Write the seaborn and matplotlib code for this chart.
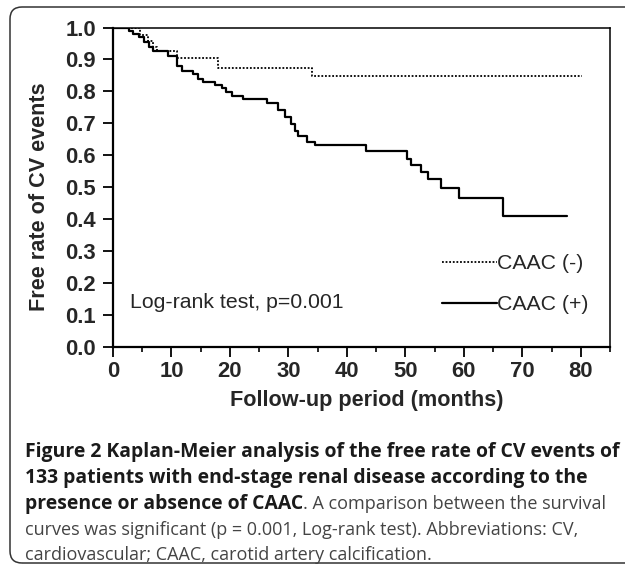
import matplotlib
matplotlib.use("Agg")
import numpy as np
import pandas as pd
import seaborn as sns
import matplotlib.pyplot as plt
from matplotlib.patches import FancyBboxPatch
from matplotlib.transforms import IdentityTransform
from matplotlib.ticker import MultipleLocator

# ---------------- data ----------------
times_neg = [0, 4.6, 6.0, 6.8, 7.5, 10.9, 17.9, 34.0, 80.2]
surv_neg = [1.0, 0.978, 0.957, 0.94, 0.925, 0.906, 0.874, 0.847, 0.847]

times_pos = [0, 2.7, 3.5, 4.5, 5.3, 6.2, 6.9, 9.4, 11.0, 11.8, 13.7, 14.5, 15.4,
             17.4, 18.6, 19.4, 20.3, 22.2, 26.3, 28.2, 29.4, 30.5, 31.1, 31.6,
             33.1, 34.6, 43.3, 50.3, 51.0, 52.6, 53.8, 56.1, 59.2, 66.7, 77.7]
surv_pos = [1.0, 0.99, 0.98, 0.97, 0.955, 0.94, 0.925, 0.91, 0.88, 0.865, 0.853,
            0.838, 0.828, 0.82, 0.81, 0.797, 0.785, 0.777, 0.765, 0.742, 0.72,
            0.698, 0.676, 0.659, 0.643, 0.631, 0.612, 0.587, 0.569, 0.549, 0.525,
            0.498, 0.466, 0.41, 0.41]

label_neg = "CAAC (-)"
label_pos = "CAAC (+)"
x_ticks = [0, 10, 20, 30, 40, 50, 60, 70, 80]
x_tick_labels = ["0", "10", "20", "30", "40", "50", "60", "70", "80"]
y_ticks = [0.0, 0.1, 0.2, 0.3, 0.4, 0.5, 0.6, 0.7, 0.8, 0.9, 1.0]
y_tick_labels = ["0.0", "0.1", "0.2", "0.3", "0.4", "0.5", "0.6", "0.7", "0.8", "0.9", "1.0"]
x_label = "Follow-up period (months)"
y_label = "Free rate of CV events"
annot_text = "Log-rank test, p=0.001"

caption_lines = [
    [("Figure 2 Kaplan-Meier analysis of the free rate of CV events of", True)],
    [("133 patients with end-stage renal disease according to the", True)],
    [("presence or absence of CAAC", True), (". A comparison between the survival", False)],
    [("curves was significant (p = 0.001, Log-rank test). Abbreviations: CV,", False)],
    [("cardiovascular; CAAC, carotid artery calcification.", False)],
]

# ---------------- style ----------------
sns.set_style("ticks")
plt.rcParams["font.family"] = ["Liberation Sans", "DejaVu Sans"]
FS = 15.3

W, H = 625, 568
fig = plt.figure(figsize=(W / 100, H / 100), dpi=100)
ax = fig.add_axes([113 / W, 1 - 347 / H, 497 / W, (347 - 27.5) / H])

df_neg = pd.DataFrame({"t": times_neg, "s": surv_neg})
df_pos = pd.DataFrame({"t": times_pos, "s": surv_pos})

sns.lineplot(data=df_neg, x="t", y="s", drawstyle="steps-post", color="black",
             linewidth=1.3, linestyle=(0, (1, 1.0)), estimator=None,
             label=label_neg, ax=ax)
sns.lineplot(data=df_pos, x="t", y="s", drawstyle="steps-post", color="black",
             linewidth=1.6, estimator=None, label=label_pos, ax=ax)

ax.set_xlim(0, 85)
ax.set_ylim(0, 1.0)
ax.set_xticks(x_ticks)
ax.set_xticklabels(x_tick_labels)
ax.set_yticks(y_ticks)
ax.set_yticklabels(y_tick_labels)
ax.xaxis.set_minor_locator(MultipleLocator(5))
for lab in ax.get_xticklabels() + ax.get_yticklabels():
    lab.set_fontweight("bold")
    lab.set_fontsize(FS + 0.5)
ax.tick_params(axis="y", which="major", length=7.2, width=1.3, pad=5.0, color="black")
ax.tick_params(axis="x", which="major", length=7.0, width=1.3, pad=3.0, color="black")
ax.tick_params(axis="x", which="minor", length=3.5, width=1.2, color="black")

for side in ["left", "bottom"]:
    ax.spines[side].set_linewidth(1.6)
    ax.spines[side].set_color("black")
for side in ["top", "right"]:
    ax.spines[side].set_visible(True)
    ax.spines[side].set_linewidth(1.1)
    ax.spines[side].set_color("black")

ax.set_xlabel(x_label, fontsize=FS + 0.3, fontweight="bold")
ax.set_ylabel(y_label, fontsize=FS + 0.3, fontweight="bold")
ax.xaxis.set_label_coords(0.511, -0.136)
ax.yaxis.set_label_coords(-0.127, 0.47)

ax.text(2.9, 0.122, annot_text, fontsize=FS, va="baseline", ha="left")

ax.legend(loc="lower right", bbox_to_anchor=(81.4, 0.103), bbox_transform=ax.transData,
          frameon=False, handlelength=2.6, handletextpad=0.0, labelspacing=1.03,
          borderpad=0, borderaxespad=0, fontsize=FS)

# ---------------- outer rounded box ----------------
box = FancyBboxPatch((10, 5), 700, 556, boxstyle="round,pad=0,rounding_size=12",
                     transform=IdentityTransform(), fill=False, edgecolor="#333333",
                     linewidth=1.1)
fig.patches.append(box)

# ---------------- caption ----------------
renderer = fig.canvas.get_renderer()
cap_family = ["Open Sans", "DejaVu Sans"]
probe = fig.text(0, 0, caption_lines[0][0][0], fontsize=12, fontweight="bold", family=cap_family)
w12 = probe.get_window_extent(renderer).width
probe.remove()
cap_fs = 12 * 592.0 / w12
reg_fs = cap_fs * 0.93

baselines = [457, 483, 509, 535, 560]
x_start = 25
for line, by in zip(caption_lines, baselines):
    x = x_start
    for txt, bold in line:
        t = fig.text(x / W, 1 - by / H, txt, fontsize=cap_fs if bold else reg_fs,
                     fontweight="bold" if bold else "normal", family=cap_family,
                     color="#1a1a1a" if bold else "#444444", va="baseline", ha="left")
        x = t.get_window_extent(renderer).x1

fig.savefig("out.png", dpi=100)
